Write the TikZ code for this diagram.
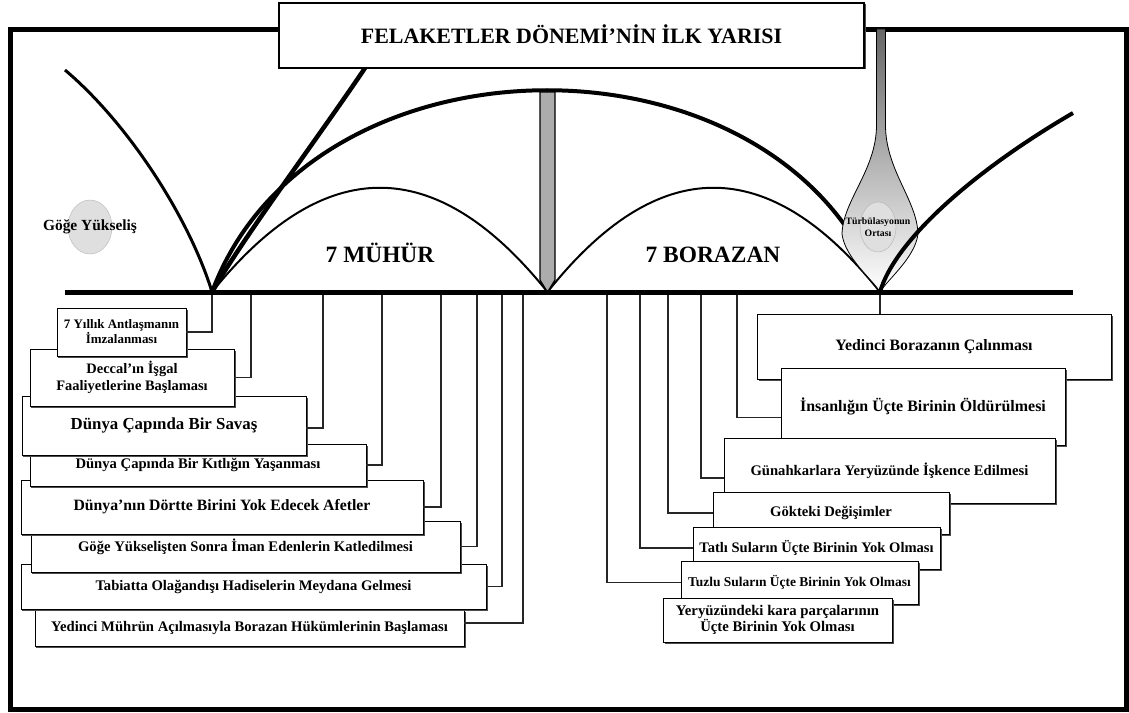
\documentclass[tikz,border=0pt]{standalone}
\usepackage{fontspec}
\setmainfont{Liberation Serif}
\usetikzlibrary{shapes.geometric,shadows}
\newcommand\fsz[2]{\fontsize{#1}{#2}\selectfont\bfseries}

\begin{document}
\begin{tikzpicture}[x=1bp,y=-1bp,
    event/.style ={draw, fill=white, line width=0.9bp, inner sep=0pt, align=center,
       drop shadow={shadow xshift=1.5bp, shadow yshift=-1.5bp, fill=black!70, opacity=1}},
    link/.style ={line width=1.1bp, black!85},
    blob/.style ={ellipse, draw=gray!60, fill=gray!25, inner sep=0pt}]
   \useasboundingbox (0,0) rectangle (1129,713);
   \draw[line width=5bp] (10.5,29.5) rectangle (1126.5,709.5);

   \coordinate (O1) at (212,292);
   \coordinate (O2) at (547.5,292);
   \coordinate (O3) at (880,292);
   \coordinate (W) at (65,292);
   \coordinate (E) at (1073,292);

   \draw[line width=3bp] (65,70) .. controls (130,125) and (190,220) .. (O1);
   \draw[line width=4.5bp] (O1) .. controls (245,235) and (320,135) .. (365,68);
   \draw[line width=4bp] (O1) .. controls (312,23) and (783,23) .. (O3);
   \draw[line width=2bp] (O1) .. controls (324,153) and (436,153) .. (O2);
   \draw[line width=2bp] (O2) .. controls (658,153) and (769,153) .. (O3);

   \draw[line width=1.2bp, fill=gray!65] (540,92) -- (540,280) -- (O2) -- (555,280) -- (555,92) -- cycle;
   \draw[line width=0.8bp, top color=black!60, bottom color=white]
      (876.5,29) -- (876.5,125) .. controls (876.5,170) and (843,200) .. (842,234)
      .. controls (845,258) and (873,280) .. (O3)
      .. controls (887,280) and (915,258) .. (918,234)
      .. controls (917,200) and (885.5,170) .. (885.5,125) -- (885.5,29) -- cycle;
   \draw[line width=4bp] (O3) .. controls (895,240) and (975,170) .. (1073,113);

   \node[blob, minimum width=44bp, minimum height=54bp] (rapture) at (90,227) {};
   \node[font=\fsz{15.5}{17}] (raptureText) at (rapture) {Göğe Yükseliş};
   \node[blob, minimum width=36bp, minimum height=50bp] (midst) at (878,227) {};
   \node[font=\fsz{9.8}{11.5}, align=center] (midstText) at (midst) {Türbülasyonun\\Ortası};

   \coordinate (s1) at (O1);
   \coordinate (s2) at (251,292);
   \coordinate (s3) at (323,292);
   \coordinate (s4) at (382,292);
   \coordinate (s5) at (441,292);
   \coordinate (s6) at (477,292);
   \coordinate (s7) at (502,292);
   \coordinate (s8) at (523,292);
   \coordinate (t1) at (O3);
   \coordinate (t2) at (737,292);
   \coordinate (t3) at (701,292);
   \coordinate (t4) at (668,292);
   \coordinate (t5) at (640,292);
   \coordinate (t6) at (607,292);

   \node[event, minimum width=429bp, minimum height=36bp, font=\fsz{14.7}{16}] (m8) at (249.5,628) {Yedinci Mührün Açılmasıyla Borazan Hükümlerinin Başlaması};
   \node[event, minimum width=465bp, minimum height=45bp, font=\fsz{14.7}{16}] (m7) at (253.5,586.5) {Tabiatta Olağandışı Hadiselerin Meydana Gelmesi};
   \node[event, minimum width=429bp, minimum height=51bp, font=\fsz{14.7}{16}] (m6) at (245.5,546.5) {Göğe Yükselişten Sonra İman Edenlerin Katledilmesi};
   \node[event, minimum width=402bp, minimum height=54bp, font=\fsz{15.8}{17}] (m5) at (222,507) {Dünya’nın Dörtte Birini Yok Edecek Afetler};
   \node[event, minimum width=336bp, minimum height=42bp, font=\fsz{14.7}{16}] (m4) at (198,465) {Dünya Çapında Bir Kıtlığın Yaşanması};
   \node[event, minimum width=284bp, minimum height=59bp, font=\fsz{16.9}{18}] (m3) at (164,425.5) {Dünya Çapında Bir Savaş};
   \node[event, minimum width=204bp, minimum height=57bp, font=\fsz{14.5}{17}] (m2) at (132,377.5) {Deccal’ın İşgal\\Faaliyetlerine Başlaması};
   \node[event, minimum width=129bp, minimum height=48bp, font=\fsz{13}{15}] (m1) at (121.5,332) {7 Yıllık Antlaşmanın\\İmzalanması};

   \draw[link] (s8) |- ([yshift=5bp]m8.east);
   \draw[link] (s7) |- (m7.east);
   \draw[link] (s6) |- (m6.east);
   \draw[link] (s5) |- (m5.east);
   \draw[link] (s4) |- (m4.east);
   \draw[link] (s3) |- ([yshift=-2.5bp]m3.east);
   \draw[link] (s2) |- (m2.east);
   \draw[link] (s1) |- (m1.east);

   \node[event, minimum width=354bp, minimum height=65bp, font=\fsz{15.9}{17}] (b1) at (934,346.5) {Yedinci Borazanın Çalınması};
   \node[event, minimum width=284bp, minimum height=77bp, font=\fsz{16}{17}] (b2) at (923,406.5) {İnsanlığın Üçte Birinin Öldürülmesi};
   \node[event, minimum width=331bp, minimum height=65bp, font=\fsz{14.7}{17}] (b3) at (889.5,470.5) {Günahkarlara Yeryüzünde İşkence Edilmesi};
   \node[event, minimum width=236bp, minimum height=42bp, font=\fsz{14.7}{16}] (b4) at (831,513) {Gökteki Değişimler};
   \node[event, minimum width=247bp, minimum height=42bp, font=\fsz{14.6}{16}] (b5) at (816.5,548) {Tatlı Suların Üçte Birinin Yok Olması};
   \node[event, minimum width=237bp, minimum height=43bp, font=\fsz{13.5}{15}] (b6) at (799.5,582.5) {Tuzlu Suların Üçte Birinin Yok Olması};
   \node[event, minimum width=229bp, minimum height=44bp, font=\fsz{14.8}{16}] (b7) at (777.5,620) {Yeryüzündeki kara parçalarının\\Üçte Birinin Yok Olması};

   \draw[link] (t1) -- (t1 |- b1.north);
   \draw[link] (t2) |- ([yshift=-11bp]b2.west);
   \draw[link] (t3) |- ([yshift=-7.5bp]b3.west);
   \draw[link] (t4) |- (b4.west);
   \draw[link] (t5) |- (b5.west);
   \draw[link] (t6) |- (b6.west);

   \draw[line width=5bp] (W) -- (E);

   \node[draw, fill=white, line width=1.5bp, minimum width=585bp, minimum height=65bp,
      drop shadow={shadow xshift=1.5bp, shadow yshift=-1.5bp, fill=black!70, opacity=1}] (title) at (571.5,35.5) {};
   \node[font=\fsz{22}{24}, anchor=base] (titleText) at (571.5,44) {FELAKETLER DÖNEMİ’NİN İLK YARISI};
   \node[font=\fsz{23.5}{26}, anchor=base] (seals) at (380,262) {7 MÜHÜR};
   \node[font=\fsz{23.5}{26}, anchor=base] (trumpets) at (713,262) {7 BORAZAN};
 \end{tikzpicture}
\end{document}
